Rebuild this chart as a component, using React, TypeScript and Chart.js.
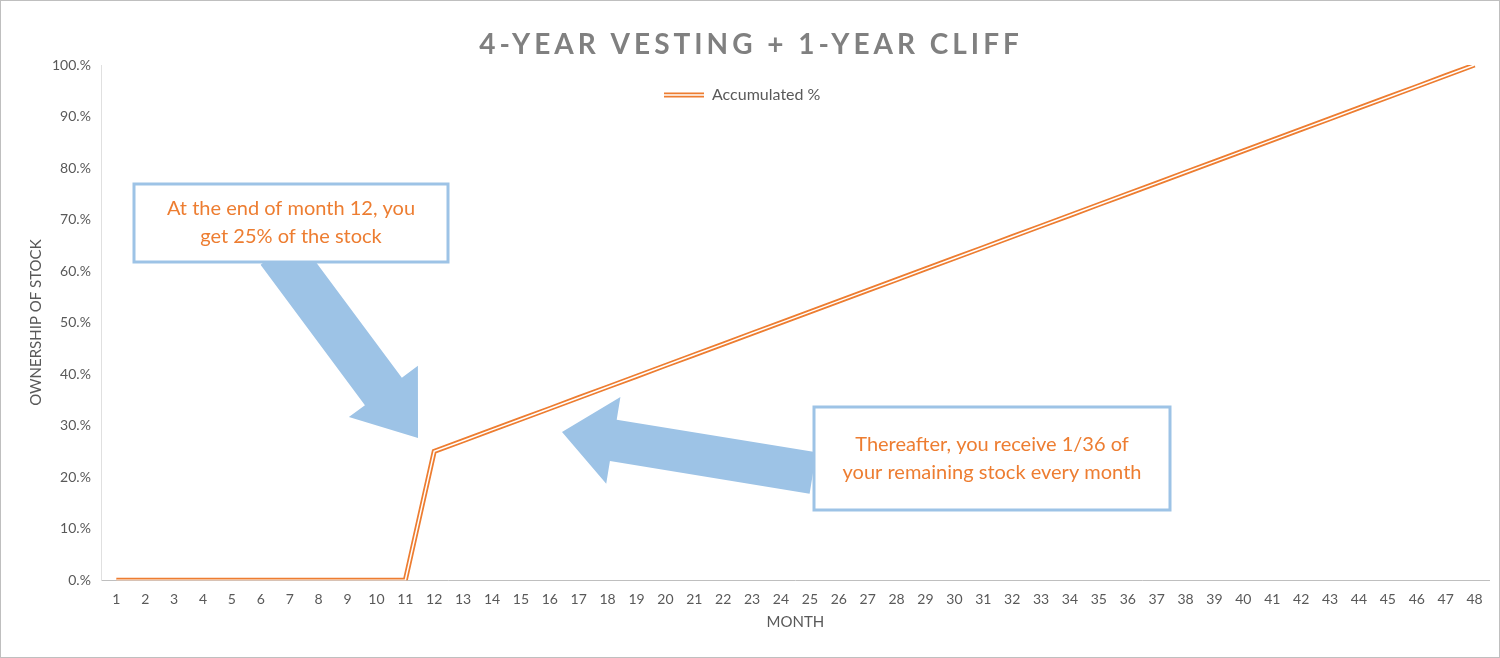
import React, { useEffect, useRef } from 'react';
import Chart from 'chart.js/auto';

const months = Array.from({ length: 48 }, (_, i) => String(i + 1));
const accumulated = [
  0, 0, 0, 0, 0, 0, 0, 0, 0, 0, 0,
  25, 27.08, 29.17, 31.25, 33.33, 35.42, 37.5, 39.58, 41.67, 43.75, 45.83, 47.92,
  50, 52.08, 54.17, 56.25, 58.33, 60.42, 62.5, 64.58, 66.67, 68.75, 70.83, 72.92,
  75, 77.08, 79.17, 81.25, 83.33, 85.42, 87.5, 89.58, 91.67, 93.75, 95.83, 97.92, 100,
];
const yTicks = ['0.%', '10.%', '20.%', '30.%', '40.%', '50.%', '60.%', '70.%', '80.%', '90.%', '100.%'];

const ORANGE = '#ED7D31';
const BLUE = '#9DC3E6';
const FONT = 'Lato, "Open Sans", sans-serif';

function arrow(ctx: CanvasRenderingContext2D, x0: number, y0: number, x1: number, y1: number, shaft: number, head: number, headLen: number) {
  const a = Math.atan2(y1 - y0, x1 - x0);
  const len = Math.hypot(x1 - x0, y1 - y0);
  ctx.save();
  ctx.translate(x0, y0);
  ctx.rotate(a);
  ctx.beginPath();
  ctx.moveTo(0, -shaft / 2);
  ctx.lineTo(len - headLen, -shaft / 2);
  ctx.lineTo(len - headLen, -head / 2);
  ctx.lineTo(len, 0);
  ctx.lineTo(len - headLen, head / 2);
  ctx.lineTo(len - headLen, shaft / 2);
  ctx.lineTo(0, shaft / 2);
  ctx.closePath();
  ctx.fillStyle = BLUE;
  ctx.fill();
  ctx.restore();
}

function box(ctx: CanvasRenderingContext2D, x: number, y: number, w: number, h: number, lines: string[]) {
  ctx.fillStyle = '#fff';
  ctx.fillRect(x, y, w, h);
  ctx.strokeStyle = BLUE;
  ctx.lineWidth = 3;
  ctx.strokeRect(x, y, w, h);
  ctx.fillStyle = ORANGE;
  ctx.font = `20px ${FONT}`;
  ctx.textAlign = 'center';
  ctx.textBaseline = 'middle';
  const lh = 28;
  lines.forEach((t, i) => ctx.fillText(t, x + w / 2, y + h / 2 + (i - (lines.length - 1) / 2) * lh));
}

const annotations = {
  id: 'annotations',
  afterDraw(chart: any) {
    const ctx = chart.ctx as CanvasRenderingContext2D;
    ctx.save();
    // title
    ctx.fillStyle = '#808080';
    ctx.font = `bold 28px ${FONT}`;
    (ctx as any).letterSpacing = '4px';
    ctx.textAlign = 'center';
    ctx.textBaseline = 'middle';
    ctx.fillText('4-YEAR VESTING + 1-YEAR CLIFF', 750, 44);
    (ctx as any).letterSpacing = '0px';
    // legend (double line)
    ctx.strokeStyle = ORANGE;
    ctx.lineWidth = 5;
    ctx.beginPath(); ctx.moveTo(663, 94); ctx.lineTo(703, 94); ctx.stroke();
    ctx.strokeStyle = '#fff';
    ctx.lineWidth = 1.5;
    ctx.beginPath(); ctx.moveTo(663, 94); ctx.lineTo(703, 94); ctx.stroke();
    ctx.fillStyle = '#595959';
    ctx.font = `16px ${FONT}`;
    ctx.textAlign = 'left';
    ctx.fillText('Accumulated %', 711, 94);
    // callouts
    arrow(ctx, 278, 250, 417, 437, 46, 86, 58);
    arrow(ctx, 812, 472, 561, 431, 42, 88, 52);
    box(ctx, 133, 183, 314, 78, ['At the end of month 12, you', 'get 25% of the stock']);
    box(ctx, 813, 406, 356, 103, ['Thereafter, you receive 1/36 of', 'your remaining stock every month']);
    ctx.restore();
  },
};

export default function App() {
  const ref = useRef<HTMLCanvasElement | null>(null);
  useEffect(() => {
    if (!ref.current) return;
    const chart = new Chart(ref.current, {
      type: 'line',
      data: {
        labels: months,
        datasets: [
          { label: 'Accumulated %', data: accumulated, borderColor: ORANGE, borderWidth: 5, pointRadius: 0, tension: 0, order: 1 },
          { label: 'inner', data: accumulated, borderColor: '#fff', borderWidth: 1.5, pointRadius: 0, tension: 0, order: 0 },
        ],
      },
      plugins: [annotations],
      options: {
        animation: false,
        responsive: false,
        layout: { padding: { left: 22, right: 10, top: 64, bottom: 22 } },
        plugins: {
          title: { display: false },
          legend: { display: false },
          tooltip: { enabled: false },
        },
        scales: {
          x: {
            offset: true,
            grid: { display: false },
            border: { color: '#BFBFBF' },
            ticks: { color: '#595959', font: { family: FONT, size: 14 }, maxRotation: 0, autoSkip: false },
            title: { display: true, text: 'MONTH', color: '#595959', font: { family: FONT, size: 15 }, padding: { top: 2 } },
          },
          y: {
            min: 0, max: 100,
            grid: { display: false },
            border: { color: '#E0E0E0' },
            ticks: { stepSize: 10, color: '#595959', font: { family: FONT, size: 14 }, callback: (_v: any, i: number) => yTicks[i] },
            title: { display: true, text: 'OWNERSHIP OF STOCK', color: '#595959', font: { family: FONT, size: 15 } },
          },
        },
      },
    });
    return () => chart.destroy();
  }, []);
  return (
    <div style={{ position: 'absolute', left: 0, top: 0, width: 1500, height: 658, boxSizing: 'border-box', border: '1px solid #BFBFBF', background: '#fff' }}>
      <canvas ref={ref} width={1498} height={656} />
    </div>
  );
}
